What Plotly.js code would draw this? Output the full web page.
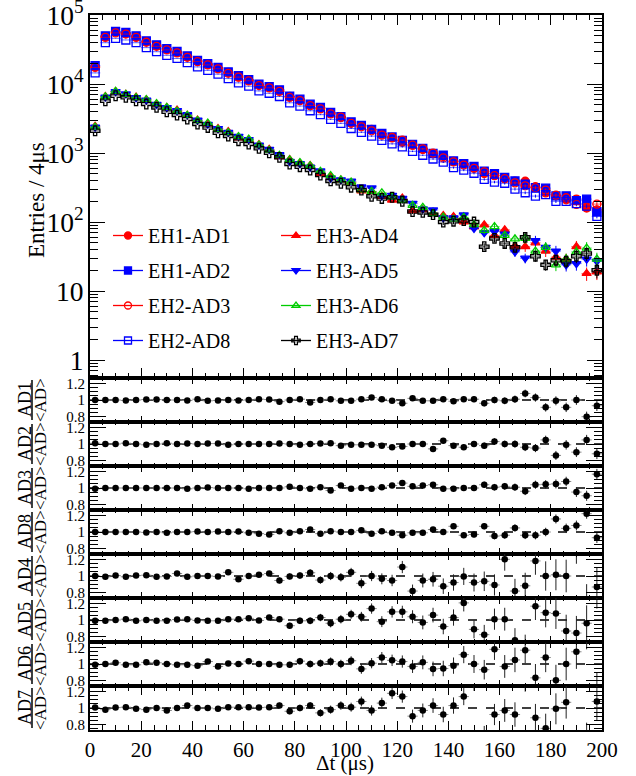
<!DOCTYPE html>
<html><head><meta charset="utf-8">
<script src="https://cdn.plot.ly/plotly-3.0.1.min.js"></script>
<style>html,body{margin:0;padding:0;background:#fff}#chart{width:636px;height:776px}</style>
</head><body><div id="chart"></div>
<script>
// ---- data ----
const dt = [2,6,10,14,18,22,26,30,34,38,42,46,50,54,58,62,66,70,74,78,82,86,90,94,98,102,106,110,114,118,122,126,130,134,138,142,146,150,154,158,162,166,170,174,178,182,186,190,194,198];

const ad1 = [17900,48800,56500,54000,48700,41300,35700,31900,28700,24800,21600,19200,16900,14700,12700,11300,9700,8950,7900,6600,5900,4900,4450,3780,3270,2740,2480,2200,1880,1660,1430,1300,1130,980,890,760,690,615,505,478,425,390,390,325,265,240,210,215,160,150];
const ad2 = [18500,50000,58000,55800,50000,42300,37000,32700,29600,25600,22100,19800,17400,15000,13200,11600,9950,9200,8250,6700,6050,5100,4580,3870,3370,2830,2520,2200,1920,1710,1520,1340,1170,990,930,770,705,640,545,505,445,395,355,315,310,240,240,205,215,141];
const ad3 = [17400,47500,55000,53000,47500,40300,35200,31200,28200,24400,21100,18900,16600,14300,12600,11100,9500,8800,7850,6400,5750,4870,4370,3690,3320,2700,2400,2100,1820,1680,1540,1300,1150,1000,850,745,670,600,535,470,425,370,335,315,290,245,225,180,165,182];
const ad8 = [14500,39700,46000,43500,39700,33700,29400,26100,23500,20500,17700,15800,13900,12000,10400,9300,7950,7350,6600,5350,4800,4100,3600,3080,2700,2270,2000,1760,1530,1360,1230,1060,930,820,740,615,565,510,415,380,365,300,266,238,250,200,200,185,170,121];
const ad4 = [2450,6600,7800,7100,6450,5900,5100,4580,4200,3520,3010,2640,2270,2050,1660,1540,1330,1130,890,805,710,660,510,455,405,375,283,276,236,208,222,146,151,134,124,120,101,85,91,64,77,45,44,50,38,31,29,44,18,19];
const ad5 = [2380,6480,7750,7200,6350,5860,5080,4560,4120,3590,2990,2610,2260,1990,1750,1570,1300,1130,945,755,700,625,550,433,410,390,322,312,240,243,220,187,155,150,115,115,127,81,70,73,67,37,30,54,43,38,24,25,29,27];
const ad6 = [2380,6550,7850,7080,6350,5980,5200,4590,4060,3520,2950,2710,2210,1980,1730,1590,1310,1100,925,800,730,655,545,470,410,380,292,278,265,232,207,175,163,134,118,110,117,92,76,86,64,57,58,38,43,24,29,37,42,29];
const ad7 = [2100,5730,6770,6410,5730,5130,4590,3970,3550,3110,2630,2350,1970,1760,1510,1350,1170,1010,866,693,634,567,480,395,365,320,291,236,220,229,200,142,138,128,100,103,105,100,44,58,49,43,60,32,24,28,27,32,35,20];

// relative statistical uncertainties
const nearErr = [0.008,0.005,0.005,0.005,0.005,0.005,0.006,0.006,0.006,0.007,0.007,0.007,0.008,0.008,0.009,0.009,0.010,0.010,0.011,0.012,0.012,0.013,0.014,0.015,0.016,0.017,0.018,0.019,0.020,0.022,0.023,0.025,0.026,0.028,0.030,0.032,0.034,0.036,0.038,0.040,0.042,0.045,0.047,0.050,0.052,0.055,0.058,0.060,0.062,0.065];
const farErr = [0.02,0.013,0.012,0.012,0.013,0.014,0.015,0.016,0.017,0.018,0.019,0.021,0.022,0.024,0.026,0.027,0.03,0.032,0.035,0.037,0.04,0.042,0.045,0.05,0.052,0.055,0.06,0.063,0.067,0.07,0.075,0.08,0.085,0.09,0.095,0.1,0.105,0.11,0.12,0.13,0.14,0.15,0.16,0.17,0.18,0.19,0.2,0.21,0.22,0.24];

// ratios AD / <AD>
const r1 = [1.0,1.0,1.0,0.995,1.0,1.005,1.005,1.0,1.0,0.995,1.01,0.99,0.995,1.0,0.995,1.0,1.01,1.005,0.98,1.0,1.01,0.97,1.0,1.01,0.99,0.99,1.01,1.03,1.01,0.99,0.96,1.02,0.99,0.99,1.01,0.985,1.01,1.01,0.96,1.0,0.99,1.01,1.08,1.03,0.91,0.99,0.91,1.0,0.795,0.93];
const r2 = [1.01,1.0,1.0,1.01,1.0,0.99,1.0,1.01,1.0,1.005,1.0,1.005,1.005,0.99,1.0,1.0,1.0,1.0,1.005,1.0,0.99,1.0,1.005,1.01,0.98,0.99,0.99,0.99,0.98,0.96,0.97,1.0,1.0,0.94,1.04,0.98,0.96,1.0,0.98,1.03,1.0,1.0,0.96,0.95,1.05,0.86,0.99,0.9,1.05,0.88];
const r3 = [0.99,1.0,1.0,1.0,1.0,1.0,1.0,1.0,1.0,0.99,1.0,1.005,1.0,1.0,1.0,0.99,1.0,1.0,1.0,1.015,1.0,0.99,1.01,0.97,1.03,0.99,1.0,0.99,1.01,1.03,1.06,1.02,1.03,1.04,0.99,0.99,1.0,1.0,1.04,1.01,1.02,1.01,0.96,1.04,1.045,1.05,1.08,0.95,0.905,1.17];
const r8 = [1.0,1.0,1.0,1.0,1.0,0.995,1.0,0.99,1.0,1.0,1.005,1.0,1.005,1.0,1.005,0.99,0.98,0.97,1.01,0.99,1.01,1.03,0.98,1.01,1.0,1.0,1.02,0.98,1.01,0.99,0.96,0.99,0.99,1.03,1.0,1.07,0.96,0.97,1.07,0.95,0.96,1.05,0.96,0.96,1.0,1.16,1.045,1.08,1.225,0.93];
const r4 = [1.0,0.99,1.005,0.99,1.005,1.01,0.99,0.995,1.03,0.99,1.0,1.0,0.995,1.045,0.96,1.0,1.015,1.03,0.945,0.995,1.005,1.04,0.95,1.0,0.985,1.045,0.91,1.0,0.965,0.945,1.11,0.815,0.945,0.96,0.875,0.92,0.995,0.92,0.935,0.89,1.205,0.815,0.88,1.185,1.0,1.015,1.0,1.36,0.68,0.865];
const r5 = [0.99,0.99,1.0,1.01,0.99,1.0,0.99,0.99,1.005,1.01,0.995,0.99,0.99,1.01,1.01,1.02,0.995,1.03,1.01,0.93,0.99,0.99,1.03,0.96,1.01,1.07,1.04,1.14,0.98,1.1,1.1,1.04,0.97,1.06,0.92,1.03,1.21,0.885,0.82,1.01,1.01,0.75,0.66,1.17,1.09,1.08,0.865,0.84,0.96,1.38];
const r6 = [0.99,1.0,1.015,0.99,0.99,1.02,1.015,1.0,0.99,0.99,0.98,1.03,0.97,1.005,1.0,1.035,1.0,1.0,0.99,0.99,1.035,1.0,1.01,1.03,1.0,1.04,0.94,1.01,1.08,1.045,1.03,0.97,1.02,0.94,0.945,0.98,1.115,1.0,0.93,1.18,0.97,1.05,1.17,0.83,1.08,0.8,1.0,1.15,1.4,0.65];
const r7 = [1.005,0.98,1.005,1.01,0.99,0.98,1.0,0.97,1.0,1.03,1.0,1.0,0.99,1.01,1.01,1.01,1.005,1.01,1.03,0.96,1.0,1.03,0.94,0.98,1.03,1.01,1.08,0.97,1.06,1.18,1.14,0.9,0.97,1.03,0.92,1.03,1.14,1.32,0.66,0.92,0.97,0.92,1.36,0.88,0.75,0.99,1.07,1.42,0.6,1.08];

const names = ['EH1-AD1','EH1-AD2','EH2-AD3','EH2-AD8','EH3-AD4','EH3-AD5','EH3-AD6','EH3-AD7'];
const ratioLabels = ['AD1','AD2','AD3','AD8','AD4','AD5','AD6','AD7'];

// ---- styles ----
const FONT = 'Liberation Serif';
const series = [
  {top:ad1, ratio:r1, err:nearErr, color:'#ff0000', symbol:'circle', leg:'legend'},
  {top:ad2, ratio:r2, err:nearErr, color:'#0000ff', symbol:'square', leg:'legend'},
  {top:ad3, ratio:r3, err:nearErr, color:'#ff0000', symbol:'circle-open', leg:'legend'},
  {top:ad8, ratio:r8, err:nearErr, color:'#0000ff', symbol:'square-open', leg:'legend'},
  {top:ad4, ratio:r4, err:farErr, color:'#ff0000', symbol:'triangle-up', leg:'legend2'},
  {top:ad5, ratio:r5, err:farErr, color:'#0000ff', symbol:'triangle-down', leg:'legend2'},
  {top:ad6, ratio:r6, err:farErr, color:'#00cc00', symbol:'triangle-up-open', leg:'legend2'},
  {top:ad7, ratio:r7, err:farErr, color:'#000000', symbol:'cross-open', leg:'legend2'}
];

const L=90, R=602, T=15, B=730, TOPB=378, PH=44;
const px2x = p => (p-L)/(R-L);
const py2y = p => (B-p)/(B-T);

const traces = [];
series.forEach((s,i)=>{
  const absErr = s.top.map((v,j)=>v*s.err[j]);
  traces.push({
    x: dt, y: s.top, xaxis:'x', yaxis:'y', type:'scatter', mode:'markers', showlegend:false,
    marker:{symbol:s.symbol, size:8, color:s.color, line:{color:s.color, width:1.3}},
    error_y:{type:'data', array:absErr, color:s.color, thickness:1, width:0},
    error_x:{type:'constant', value:2, color:s.color, thickness:0.6, width:0},
    hoverinfo:'skip'
  });
});
// legend entries (line + marker)
series.forEach((s,i)=>{
  traces.push({
    x:[null], y:[null], xaxis:'x', yaxis:'y', type:'scatter', mode:'lines+markers', name:names[i],
    legend:s.leg, legendgroup:'g'+i, showlegend:true,
    marker:{symbol:s.symbol, size:7, color:s.color, line:{color:s.color, width:1.3}},
    line:{color:s.color, width:1.3}
  });
});
// ratio panels
series.forEach((s,i)=>{
  traces.push({
    x: dt, y: s.ratio, xaxis:'x'+(i+2), yaxis:'y'+(i+2), type:'scatter', mode:'markers', showlegend:false,
    marker:{symbol:'circle', size:6.5, color:'#000'},
    error_y:{type:'data', array:s.err, color:'#222', thickness:1, width:0},
    error_x:{type:'constant', value:2, color:'#888', thickness:1, width:0},
    hoverinfo:'skip'
  });
});

const xbase = {
  range:[0,200], tick0:0, dtick:20, ticks:'inside', ticklen:10, tickwidth:1, tickcolor:'#000',
  showline:true, linewidth:2, linecolor:'#000', mirror:'ticks', showgrid:false, zeroline:false,
  minor:{ticks:'inside', ticklen:5, tick0:0, dtick:5, tickcolor:'#000', showgrid:false},
  showticklabels:false, tickfont:{family:FONT, size:21, color:'#000'}
};

const layout = {
  width:636, height:776, margin:{l:L, r:636-R, t:T, b:776-B},
  paper_bgcolor:'#fff', plot_bgcolor:'#fff', font:{family:FONT, color:'#000'},
  showlegend:true,
  xaxis: Object.assign({}, xbase, {anchor:'y', domain:[0,1]}),
  yaxis: {
    domain:[py2y(TOPB),1], anchor:'x', type:'log', range:[Math.log10(0.55),5.0005], dtick:1,
    exponentformat:'power', ticks:'inside', ticklen:15, tickwidth:1, tickcolor:'#000',
    ticklabeloverflow:'allow',
    minor:{ticks:'inside', ticklen:8, dtick:'D1', tickcolor:'#000', showgrid:false},
    showline:true, linewidth:2, linecolor:'#000', mirror:'ticks', showgrid:false, zeroline:false,
    tickfont:{family:FONT, size:22, color:'#000'}
  },
  legend:{x:px2x(108), y:py2y(216), xanchor:'left', yanchor:'top', bgcolor:'rgba(0,0,0,0)',
    font:{family:FONT, size:20, color:'#000'}, traceorder:'grouped', tracegroupgap:6, itemwidth:30},
  legend2:{x:px2x(276), y:py2y(216), xanchor:'left', yanchor:'top', bgcolor:'rgba(0,0,0,0)',
    font:{family:FONT, size:20, color:'#000'}, traceorder:'grouped', tracegroupgap:6, itemwidth:30},
  shapes:[], annotations:[]
};

for(let k=0;k<8;k++){
  const top = TOPB + PH*k, bot = TOPB + PH*(k+1);
  const xa = Object.assign({}, xbase, {anchor:'y'+(k+2), matches:'x', ticklen:6,
    minor:{ticks:'inside', ticklen:3, tick0:0, dtick:5, tickcolor:'#000', showgrid:false}});
  if(k===7){ xa.showticklabels = true; xa.ticklen = 9; xa.minor.ticklen = 5; }
  layout['xaxis'+(k+2)] = xa;
  layout['yaxis'+(k+2)] = {
    domain:[py2y(bot), py2y(top)], anchor:'x'+(k+2), range:[0.73,1.27],
    tickvals:[0.8,1,1.2], ticktext:['0.8','1','1.2'], ticks:'inside', ticklen:16, tickwidth:1, tickcolor:'#000',
    ticklabeloverflow:'allow',
    minor:{ticks:'inside', ticklen:8, tick0:0.8, dtick:0.05, tickcolor:'#000', showgrid:false},
    showline:true, linewidth:2, linecolor:'#000', mirror:'ticks', showgrid:false, zeroline:false,
    tickfont:{family:FONT, size:15, color:'#000'}
  };
  layout.shapes.push({type:'line', xref:'x'+(k+2)+' domain', yref:'y'+(k+2), x0:0, x1:1, y0:1, y1:1,
    line:{color:'#000', width:1.5, dash:'dash'}, layer:'below'});
  const cy = (top+bot)/2;
  layout.annotations.push({xref:'paper', yref:'paper', x:px2x(25), y:py2y(cy), text:ratioLabels[k],
    textangle:-90, showarrow:false, xanchor:'center', yanchor:'middle', font:{family:FONT, size:18, color:'#000'}});
  layout.annotations.push({xref:'paper', yref:'paper', x:px2x(40), y:py2y(cy), text:'&lt;AD&gt;',
    textangle:-90, showarrow:false, xanchor:'center', yanchor:'middle', font:{family:FONT, size:17, color:'#000'}});
  layout.shapes.push({type:'line', xref:'paper', yref:'paper', x0:px2x(32), x1:px2x(32), y0:py2y(cy-20), y1:py2y(cy+20),
    line:{color:'#000', width:1.5}});
}

layout.annotations.push({xref:'paper', yref:'paper', x:px2x(36), y:py2y(200), text:'Entries / 4μs',
  textangle:-90, showarrow:false, xanchor:'center', yanchor:'middle', font:{family:FONT, size:23, color:'#000'}});
layout.annotations.push({xref:'paper', yref:'paper', x:px2x(345), y:py2y(763), text:'Δt (μs)',
  showarrow:false, xanchor:'center', yanchor:'middle', font:{family:FONT, size:21, color:'#000'}});

Plotly.newPlot('chart', traces, layout, {displayModeBar:false, staticPlot:true});
</script>
</body></html>
